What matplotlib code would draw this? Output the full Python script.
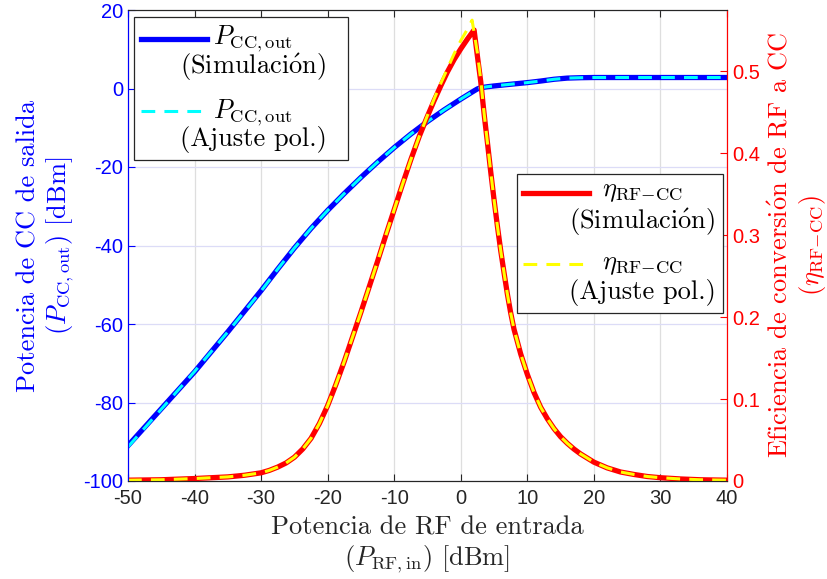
import matplotlib
matplotlib.use('Agg')
import matplotlib.pyplot as plt
import numpy as np
from matplotlib.legend_handler import HandlerLine2D
from matplotlib.offsetbox import DrawingArea

# ---------------- data ----------------
x_pout = [-50, -45, -40, -35, -30, -27.5, -25, -22.5, -20, -17.5, -15, -12.5, -10, -7.5, -5, -2.5,
          0, 1, 2, 2.5, 3, 4, 5, 7, 10, 12, 14, 16, 18, 20, 30, 40]
pout_sim = [-91.0, -81.6, -72.2, -62.0, -51.5, -46.0, -40.65, -35.65, -31.05, -26.75, -22.65, -18.75, -15.05, -11.6, -8.4, -5.45,
            -2.7, -1.65, -0.6, -0.1, 0.2, 0.45, 0.65, 1.0, 1.5, 1.9, 2.35, 2.65, 2.75, 2.8, 2.8, 2.8]
pout_fit = [-91.3, -81.7, -72.1, -62.0, -51.6, -46.0, -40.65, -35.65, -31.05, -26.75, -22.65, -18.75, -15.05, -11.6, -8.4, -5.45,
            -2.7, -1.65, -0.6, -0.1, 0.2, 0.45, 0.65, 1.0, 1.5, 1.9, 2.35, 2.65, 2.75, 2.8, 2.8, 2.8]

x_eta = [-50, -45, -40, -37.5, -35, -32.5, -30, -28.75, -27.5, -26.25, -25, -23.75, -22.5, -21.25, -20,
         -18.75, -17.5, -16.25, -15, -13.75, -12.5, -11.25, -10, -8.75, -7.5, -6.25, -5, -4, -3, -2, -1, 0, 1, 2,
         2.5, 3, 3.5, 4, 4.5, 5, 5.5, 6, 6.5, 7, 7.5, 8, 9, 10, 11, 12, 13, 14, 15, 16, 17, 18, 20, 22, 24, 26,
         28, 30, 33, 36, 40]
eta_sim = [0.001, 0.0015, 0.003, 0.004, 0.005, 0.007, 0.010, 0.013, 0.017, 0.022, 0.029, 0.039, 0.052, 0.070, 0.092,
           0.118, 0.146, 0.176, 0.206, 0.237, 0.268, 0.300, 0.331, 0.362, 0.392, 0.420, 0.445, 0.464, 0.482, 0.499, 0.514, 0.527, 0.539, 0.550,
           0.518, 0.487, 0.448, 0.413, 0.377, 0.343, 0.311, 0.281, 0.254, 0.228, 0.205, 0.185, 0.155, 0.130, 0.108, 0.090, 0.076, 0.064, 0.054, 0.046, 0.039, 0.033, 0.023, 0.016, 0.011, 0.008,
           0.0055, 0.004, 0.0025, 0.0015, 0.001]
x_eta_fit = [-50, -45, -40, -37.5, -35, -32.5, -30, -28.75, -27.5, -26.25, -25, -23.75, -22.5, -21.25, -20,
             -18.75, -17.5, -16.25, -15, -13.75, -12.5, -11.25, -10, -8.75, -7.5, -6.25, -5, -4, -3, -2, -1, 0, 1, 1.7,
             2.5, 3, 3.5, 4, 4.5, 5, 5.5, 6, 6.5, 7, 7.5, 8, 9, 10, 11, 12, 13, 14, 15, 16, 17, 18, 20, 22, 24, 26,
             28, 30, 33, 36, 40]
eta_fit = [0.001, 0.0015, 0.003, 0.004, 0.005, 0.007, 0.010, 0.013, 0.017, 0.022, 0.029, 0.039, 0.052, 0.070, 0.092,
           0.118, 0.146, 0.176, 0.206, 0.237, 0.268, 0.300, 0.331, 0.362, 0.392, 0.420, 0.446, 0.466, 0.485, 0.503, 0.521, 0.537, 0.551, 0.562,
           0.522, 0.489, 0.449, 0.413, 0.377, 0.343, 0.311, 0.281, 0.254, 0.228, 0.205, 0.185, 0.155, 0.130, 0.108, 0.090, 0.076, 0.064, 0.054, 0.046, 0.039, 0.033, 0.023, 0.016, 0.011, 0.008,
           0.0055, 0.004, 0.0025, 0.0015, 0.001]

x_ticks = [-50, -40, -30, -20, -10, 0, 10, 20, 30, 40]
left_ticks = [-100, -80, -60, -40, -20, 0, 20]
right_ticks = [0, 0.1, 0.2, 0.3, 0.4, 0.5]
right_tick_labels = ['0', '0.1', '0.2', '0.3', '0.4', '0.5']

# ---------------- style ----------------
plt.rcParams['mathtext.fontset'] = 'cm'
plt.rcParams['axes.unicode_minus'] = False
SERIF = ['cmr10', 'DejaVu Serif']
TICKFONT = 'Liberation Sans'
LAB = 19
TK = 14.5
dark = '#262626'
OACUTE = '$\\acute{\\mathrm{o}}$'

fig = plt.figure(figsize=(8.28, 5.79), dpi=100)
ax = fig.add_axes([128/828, 98/579, 599/828, 471/579])
ax2 = ax.twinx()

ax.plot(x_pout, pout_sim, color='#0000ff', lw=3.8,
        label='$P_{\\mathrm{CC,out}}$\n(Simulaci' + OACUTE + 'n)')
ax.plot(x_pout, pout_fit, color='#00ffff', lw=2.2, dashes=(4.5, 3),
        label='$P_{\\mathrm{CC,out}}$\n(Ajuste pol.)')
ax2.plot(x_eta, eta_sim, color='#ff0000', lw=3.8,
         label='$\\eta_{\\mathrm{RF{-}CC}}$\n(Simulaci' + OACUTE + 'n)')
ax2.plot(x_eta_fit, eta_fit, color='#ffff00', lw=2.2, dashes=(4.5, 3),
         label='$\\eta_{\\mathrm{RF{-}CC}}$\n(Ajuste pol.)')

ax.set_xlim(-50, 40)
ax.set_ylim(-100, 20)
ax2.set_ylim(0, 0.5744)
ax.set_xticks(x_ticks)
ax.set_yticks(left_ticks)
ax2.set_yticks(right_ticks)
ax.set_xticklabels([str(v) for v in x_ticks])
ax.set_yticklabels([str(v) for v in left_ticks])
ax2.set_yticklabels(right_tick_labels)

ax.xaxis.grid(True, color='#dedede', lw=0.9)
ax.yaxis.grid(True, color='#dcdcf7', lw=0.9)
ax.set_axisbelow(True)

for a in (ax, ax2):
    a.spines['top'].set_color(dark)
    a.spines['bottom'].set_color(dark)
    a.spines['left'].set_color('#0000ff')
    a.spines['right'].set_color('#ff0000')
ax.tick_params(axis='x', direction='in', length=5, top=True, colors=dark, labelsize=TK, pad=6)
ax.tick_params(axis='y', direction='in', length=5, colors='#0000ff', labelsize=TK, right=False)
ax2.tick_params(axis='y', direction='in', length=5, colors='#ff0000', labelsize=TK)
for lab in ax.get_xticklabels() + ax.get_yticklabels() + ax2.get_yticklabels():
    lab.set_fontfamily(TICKFONT)

ax.set_xlabel('Potencia de RF de entrada\n($P_{\\mathrm{RF,in}}$) [dBm]', family=SERIF, fontsize=LAB,
              color=dark, labelpad=5)
ax.set_ylabel('Potencia de CC de salida\n($P_{\\mathrm{CC,out}}$) [dBm]', family=SERIF, fontsize=LAB,
              color='#0000ff', labelpad=5)
ax2.set_ylabel('Eficiencia de conversi' + OACUTE + 'n de RF a CC\n($\\eta_{\\mathrm{RF{-}CC}}$)', family=SERIF,
               fontsize=LAB, color='#ff0000', labelpad=6)


class UpHandler(HandlerLine2D):
    def __init__(self, up, **kw):
        super().__init__(**kw)
        self.up = up

    def create_artists(self, legend, orig_handle, xdescent, ydescent, width, height, fontsize, trans):
        arts = super().create_artists(legend, orig_handle, xdescent, ydescent, width, height, fontsize, trans)
        for a_ in arts:
            a_.set_ydata(np.asarray(a_.get_ydata(), dtype=float) + self.up * fontsize)
        return arts


def mk_legend(axx, loc, anchor, textpad, labelspacing, linespacing, up, extra_right_pt=0.0):
    leg = axx.legend(loc=loc, bbox_to_anchor=anchor, borderaxespad=0, fancybox=False,
                     framealpha=1, edgecolor=dark, prop={'family': SERIF, 'size': LAB},
                     handlelength=2.5, handletextpad=textpad, labelspacing=labelspacing, borderpad=0.25,
                     handler_map={matplotlib.lines.Line2D: UpHandler(up)})
    leg.get_frame().set_linewidth(0.9)
    for t in leg.get_texts():
        t.set_multialignment('center')
        t.set_linespacing(linespacing)
    if extra_right_pt:
        sep_pt = -textpad * LAB
        for col in leg._legend_handle_box.get_children():
            for row in col.get_children():
                row.get_children().append(DrawingArea(extra_right_pt + sep_pt, 0.1))
    return leg

mk_legend(ax, 'upper left', (0.01, 0.985), -1.02, 0.55, 0.9, 0.55, extra_right_pt=10.5)
mk_legend(ax2, 'upper right', (0.993, 0.652), -0.76, 0.6, 1.1, 0.6)

fig.savefig('out.png', dpi=100)
